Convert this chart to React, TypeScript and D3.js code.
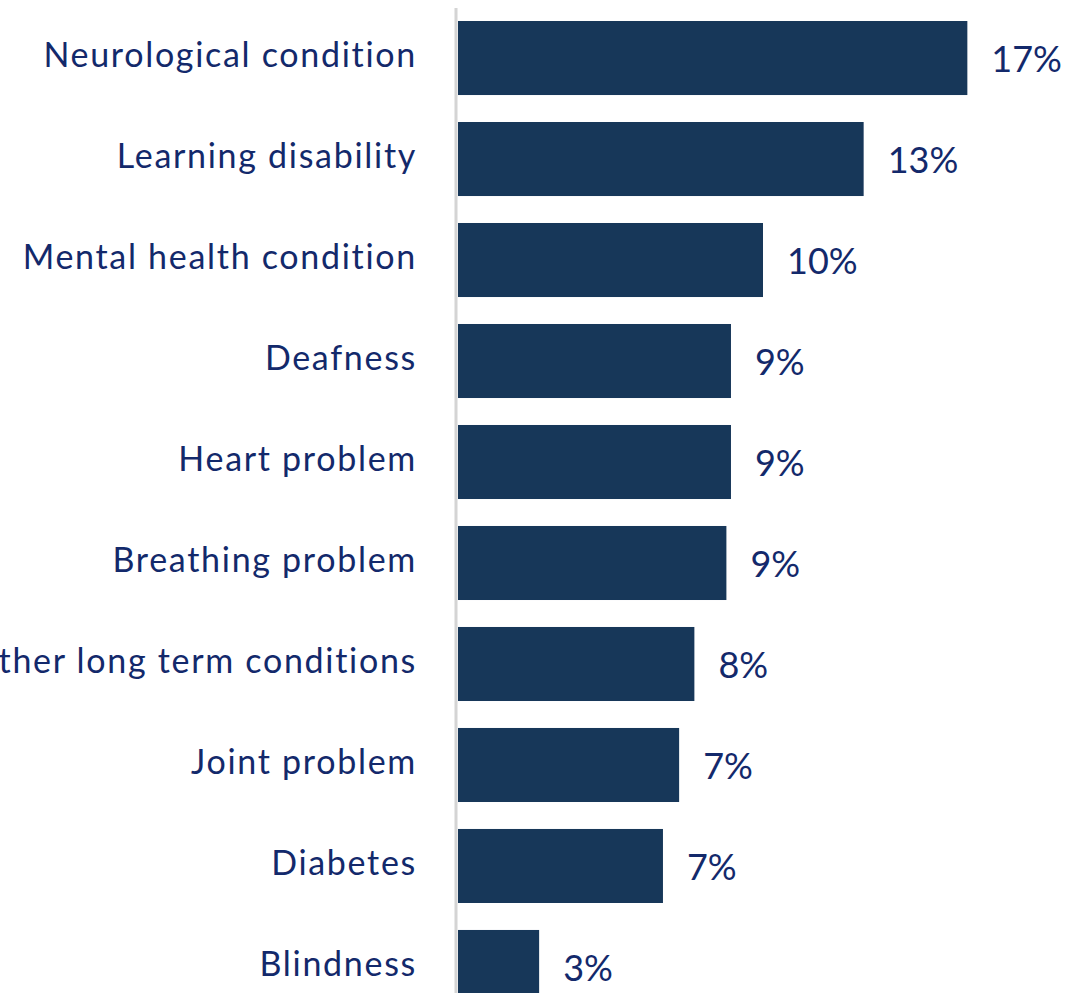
import React from "react";
import * as d3 from "d3";

const categories = [
  "Neurological condition",
  "Learning disability",
  "Mental health condition",
  "Deafness",
  "Heart problem",
  "Breathing problem",
  "Other long term conditions",
  "Joint problem",
  "Diabetes",
  "Blindness",
];
const values = [16.7, 13.3, 10.0, 8.95, 8.95, 8.8, 7.75, 7.25, 6.72, 2.66];
const valueLabels = ["17%", "13%", "10%", "9%", "9%", "9%", "8%", "7%", "7%", "3%"];

const W = 1068;
const H = 993;

export default function App() {
  const x = d3.scaleLinear().domain([0, 17.5]).range([458, 458 + 17.5 * 30.5]);
  const y = d3
    .scaleBand<string>()
    .domain(categories)
    .range([7.5, 1017.5])
    .paddingInner(0.267)
    .paddingOuter(0.1337);
  const font = "Lato, 'Open Sans', sans-serif";
  const textColor = "#13296b";
  return (
    <svg
      width={W}
      height={H}
      style={{ position: "absolute", left: 0, top: 0, background: "#fff" }}
    >
      <line x1={456} x2={456} y1={8} y2={H} stroke="#d4d4d4" strokeWidth={3} />
      {categories.map((c, i) => {
        const yy = y(c)!;
        const bw = y.bandwidth();
        const cy = yy + bw / 2;
        return (
          <g key={c}>
            <rect x={x(0)} y={yy} width={x(values[i]) - x(0)} height={bw} fill="#173759" />
            <text
              x={417}
              y={cy + 9}
              textAnchor="end"
              fontFamily={font}
              fontSize={34}
              letterSpacing={1.7}
              fill={textColor}
            >
              {c}
            </text>
            <text
              x={x(values[i]) + 24}
              y={cy + 14}
              fontFamily={font}
              fontSize={36}
              fill={textColor}
            >
              {valueLabels[i]}
            </text>
          </g>
        );
      })}
    </svg>
  );
}
